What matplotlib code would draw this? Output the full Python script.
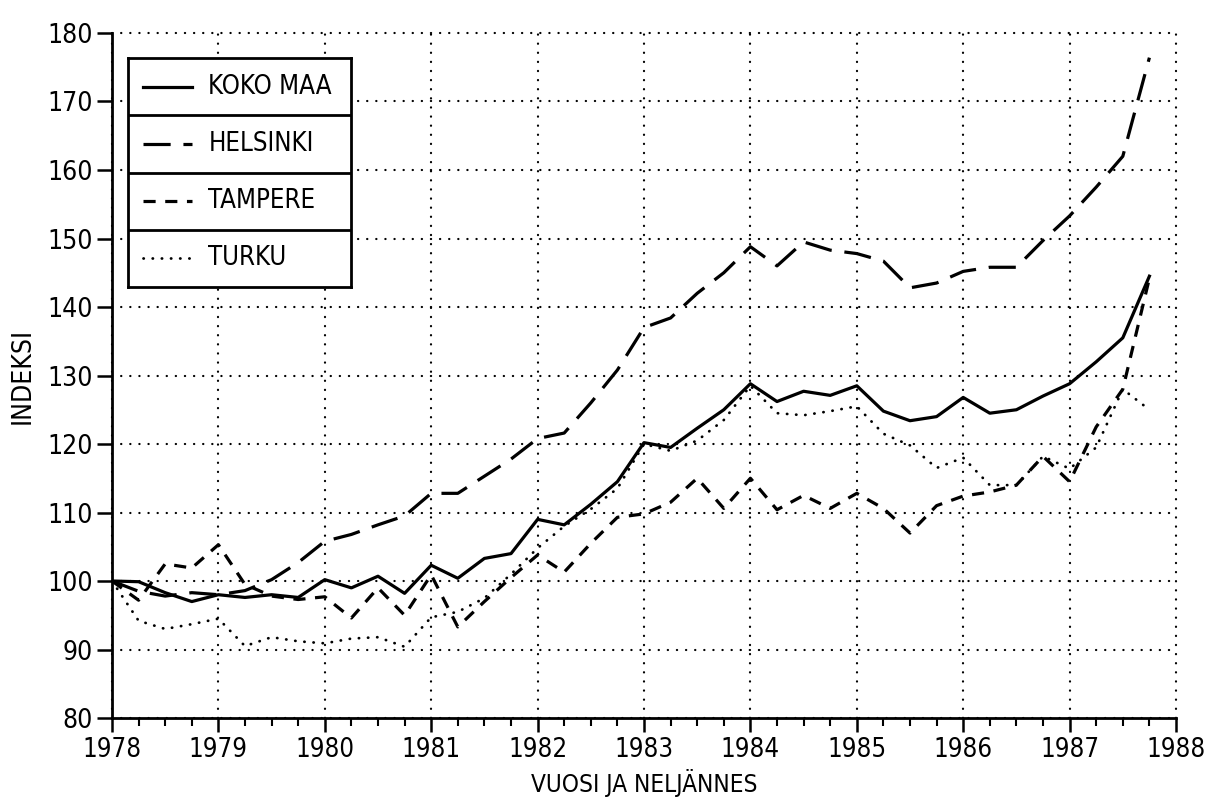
import numpy as np
import matplotlib
matplotlib.use("Agg")
import matplotlib.pyplot as plt
from matplotlib import font_manager
from matplotlib.ticker import MultipleLocator

# quarterly index values, 1978 Q1 .. 1987 Q4 (1978 = 100)
quarters = np.arange(1978, 1988, 0.25)

koko_maa = [100.0, 99.9, 98.3, 97.0,
            98.0, 97.6, 98.0, 97.6,
            100.2, 99.0, 100.7, 98.2,
            102.3, 100.4, 103.3, 104.0,
            109.0, 108.2, 111.2, 114.5,
            120.2, 119.5, 122.3, 125.0,
            128.8, 126.2, 127.7, 127.1,
            128.5, 124.8, 123.4, 124.0,
            126.8, 124.5, 125.0, 127.0,
            128.8, 132.0, 135.5, 144.5]

helsinki = [100.0, 98.5, 97.8, 98.3,
            98.0, 98.6, 100.2, 102.7,
            105.8, 106.8, 108.2, 109.5,
            112.8, 112.8, 115.3, 117.8,
            120.8, 121.6, 126.0, 130.8,
            137.0, 138.4, 142.0, 145.0,
            148.8, 146.0, 149.5, 148.3,
            147.8, 146.7, 142.8, 143.5,
            145.2, 145.8, 145.8, 149.7,
            153.3, 157.5, 162.0, 176.4]

tampere = [100.0, 97.2, 102.5, 101.9,
           105.3, 99.5, 97.8, 97.3,
           97.7, 94.6, 99.0, 95.0,
           100.9, 93.3, 97.0, 100.5,
           103.8, 101.3, 105.5, 109.3,
           109.8, 111.5, 115.0, 110.6,
           115.0, 110.4, 112.5, 110.6,
           112.8, 110.6, 107.0, 111.0,
           112.4, 113.0, 114.0, 118.2,
           114.5, 122.5, 128.0, 144.2]

turku = [100.0, 94.2, 93.0, 93.7,
         94.5, 90.5, 91.8, 91.2,
         90.9, 91.6, 91.8, 90.4,
         94.7, 95.5, 97.5, 101.0,
         104.8, 108.0, 110.5, 113.5,
         120.0, 119.0, 120.5, 123.5,
         128.5, 124.5, 124.2, 124.8,
         125.5, 121.5, 119.8, 116.5,
         118.0, 114.0, 114.0, 118.2,
         116.4, 119.5, 128.0, 125.0]

names = ['KOKO MAA', 'HELSINKI', 'TAMPERE', 'TURKU']
series = [koko_maa, helsinki, tampere, turku]

styles = [dict(linestyle='-', lw=2.3),
          dict(linestyle=(0, (8.5, 4)), lw=2.3),
          dict(linestyle=(0, (3.8, 3)), lw=2.3),
          dict(linestyle=(0, (0.1, 3.2)), lw=2.0, dash_capstyle='round')]

# narrow plotter-like lettering if we can get it
avail = {f.name for f in font_manager.fontManager.ttflist}
if 'Liberation Sans Narrow' in avail:
    plt.rcParams['font.family'] = ['Liberation Sans Narrow', 'DejaVu Sans']
else:
    plt.rcParams['font.family'] = ['DejaVu Sans']
    plt.rcParams['font.stretch'] = 'condensed'

fig = plt.figure(figsize=(12.12, 7.97), dpi=100)
ax = fig.add_axes([0.0924, 0.0991, 0.8779, 0.8595])

for vals, st in zip(series, styles):
    ax.plot(quarters, vals, color='black', **st)

ax.set_xlim(1978, 1988)
ax.set_ylim(80, 180)
ax.set_xticks(range(1978, 1989))
ax.set_yticks(range(80, 181, 10))
ax.xaxis.set_minor_locator(MultipleLocator(0.25))

# dotted grid, also on the top and right edges
ax.grid(True, which='major', color='black', linestyle=(0, (0.1, 4)),
        lw=1.6, dash_capstyle='round')
for gl in ax.get_xgridlines() + ax.get_ygridlines():
    gl.set_clip_on(False)

for s in ['top', 'right']:
    ax.spines[s].set_visible(False)
for s in ['left', 'bottom']:
    ax.spines[s].set_linewidth(2)

ax.tick_params(axis='x', which='major', direction='out', length=10, width=1.8,
               labelsize=18.5, pad=4)
ax.tick_params(axis='x', which='minor', direction='out', length=6, width=1.5)
ax.tick_params(axis='y', which='major', direction='out', length=11, width=1.8,
               labelsize=19, pad=3)

ax.set_xlabel('VUOSI JA NELJÄNNES', fontsize=17.5, va='bottom')
ax.xaxis.set_label_coords(0.5, -0.1146)
ax.set_ylabel('INDEKSI', fontsize=19, labelpad=8)

# legend box with one framed row per series
lax = fig.add_axes([0.1056, 0.6399, 0.184, 0.2873])
lax.set_xlim(0, 1)
lax.set_ylim(0, 4)
lax.set_xticks([])
lax.set_yticks([])
for s in lax.spines.values():
    s.set_linewidth(2)
for i, (name, st) in enumerate(zip(names, styles)):
    yc = 3.5 - i
    lax.plot([0.067, 0.287], [yc, yc], color='black', **st)
    lax.text(0.36, yc, name, fontsize=18.5, va='center', ha='left')
    if i > 0:
        lax.axhline(4 - i, color='black', lw=2)

fig.savefig('out.png', dpi=100)
